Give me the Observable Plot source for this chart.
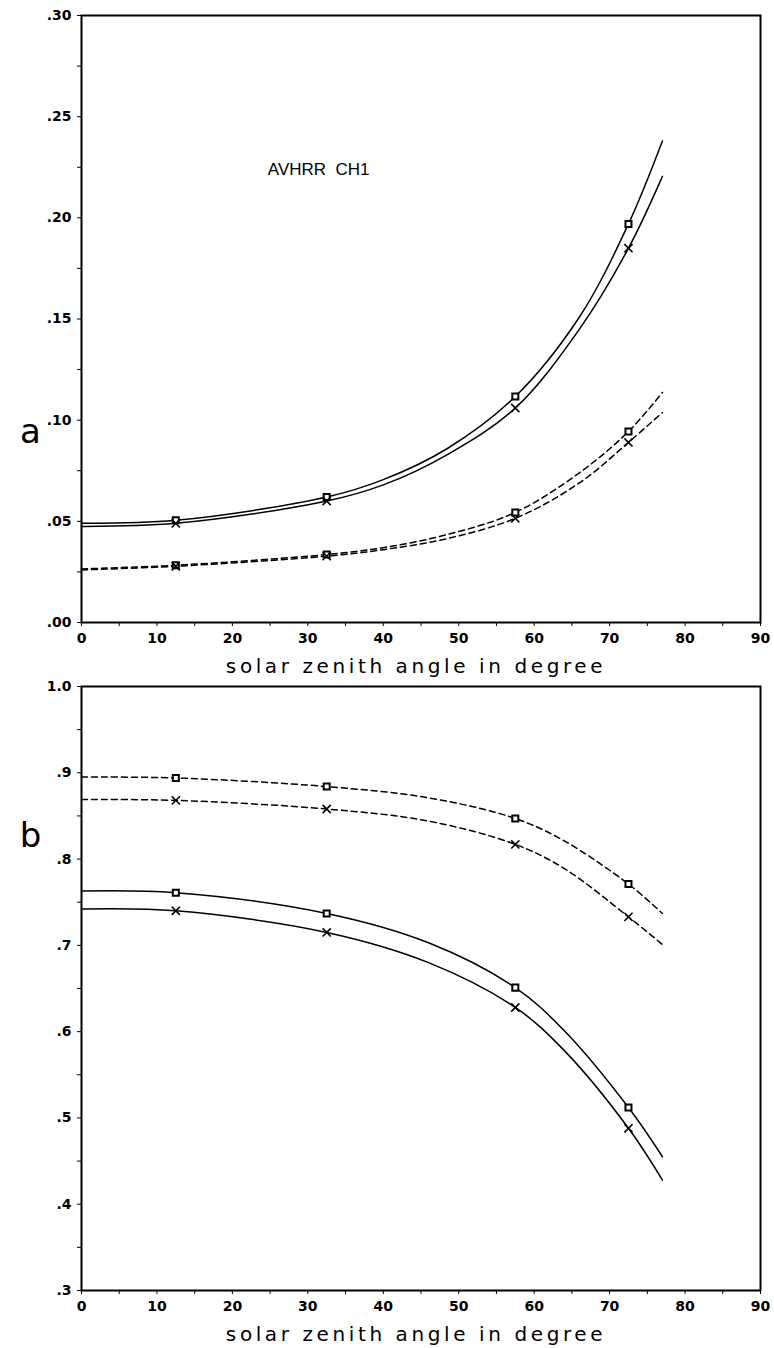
<!DOCTYPE html>
<html>
<head>
<meta charset="utf-8">
<script src="https://cdn.jsdelivr.net/npm/d3@7"></script>
<script src="https://cdn.jsdelivr.net/npm/@observablehq/plot@0.6"></script>
<style>
  body { margin: 0; background: #fff; }
  #chart { position: relative; width: 774px; height: 1348px; }
  #chart svg { display: block; position: absolute; left: 0; }
</style>
</head>
<body>
<div id="chart"></div>
<script>
// ---- Data ----
const markerAngles = [12.5, 32.5, 57.5, 72.5];

// Panel a: AVHRR CH1
const topAngles       = [0, 12.5, 32.5, 40, 48.5, 57.5, 66, 72.5, 77];
const topSolidSquare  = [0.049, 0.0505, 0.062, 0.0706, 0.086, 0.1117, 0.151, 0.197, 0.238];
const topSolidCross   = [0.0475, 0.049, 0.060, 0.068, 0.083, 0.106, 0.145, 0.185, 0.2205];
const topDashSquare   = [0.0265, 0.0283, 0.0336, 0.037, 0.0435, 0.0544, 0.074, 0.0944, 0.1137];
const topDashCross    = [0.026, 0.0278, 0.0328, 0.036, 0.0415, 0.0515, 0.069, 0.089, 0.1038];

// Panel b
const botAngles       = [0, 12.5, 32.5, 46, 57.5, 64, 72.5, 77];
const botDashSquare   = [0.895, 0.894, 0.884, 0.871, 0.847, 0.821, 0.771, 0.737];
const botDashCross    = [0.869, 0.868, 0.858, 0.844, 0.817, 0.789, 0.733, 0.701];
const botSolidSquare  = [0.763, 0.761, 0.737, 0.703, 0.651, 0.601, 0.512, 0.455];
const botSolidCross   = [0.742, 0.740, 0.715, 0.680, 0.628, 0.578, 0.488, 0.428];

// Axis ticks
const xMajor = [0, 10, 20, 30, 40, 50, 60, 70, 80, 90];
const xMinor = [5, 15, 25, 35, 45, 55, 65, 75, 85];
const topYMajor = [0, 0.05, 0.10, 0.15, 0.20, 0.25, 0.30];
const topYMinor = [0.025, 0.075, 0.125, 0.175, 0.225, 0.275];
const botYMajor = [0.3, 0.4, 0.5, 0.6, 0.7, 0.8, 0.9, 1.0];
const botYMinor = [0.35, 0.45, 0.55, 0.65, 0.75, 0.85, 0.95];

const xLabel = "solar zenith angle in degree";
const channelLabel = "AVHRR  CH1";

// ---- helpers ----
const rows = (angles, values) => angles.map((a, i) => ({angle: a, value: values[i]}));
const marks = (angles, values) => rows(angles, values).filter(d => markerAngles.includes(d.angle));
const fmtTop = d => d3.format(".2f")(d).replace(/^0/, "");
const fmtBot = d => d === 1 ? "1.0" : d3.format(".1f")(d).replace(/^0/, "");

const tickFont = {fontSize: 14, fontWeight: "bold"};

function panel({height, marginTop, marginBottom, yDomain, yMajor, yMinor, yFmt,
                angles, solid, dashed, letter, letterY, extra = []}) {
  const lineOpts = {x: "angle", y: "value", stroke: "black", strokeWidth: 1.5, curve: "catmull-rom"};
  const lm = [];
  for (const s of solid) lm.push(Plot.line(rows(angles, s), lineOpts));
  for (const s of dashed) lm.push(Plot.line(rows(angles, s), {...lineOpts, strokeDasharray: "6,4"}));
  const sq = [solid[0], dashed[0]];
  const cr = [solid[1], dashed[1]];
  const dots = [];
  for (const s of sq) dots.push(Plot.dot(marks(angles, s), {x: "angle", y: "value", symbol: "square", r: 3.4, fill: "white", stroke: "black", strokeWidth: 2}));
  for (const s of cr) dots.push(Plot.dot(marks(angles, s), {x: "angle", y: "value", symbol: "times", r: 3.8, stroke: "black", strokeWidth: 1.6}));
  return Plot.plot({
    width: 774,
    height,
    marginLeft: 81,
    marginRight: 14,
    marginTop,
    marginBottom,
    style: {fontFamily: "DejaVu Sans, sans-serif", color: "black", background: "transparent"},
    x: {domain: [0, 90]},
    y: {domain: yDomain},
    marks: [
      Plot.axisX({ticks: xMajor, tickSize: 4, tickPadding: 7, ...tickFont, label: null}),
      Plot.axisX({ticks: xMinor, tickSize: 4, tickFormat: () => "", label: null}),
      Plot.axisY({ticks: yMajor, tickSize: 4, tickPadding: 6, tickFormat: yFmt, ...tickFont, label: null}),
      Plot.axisY({ticks: yMinor, tickSize: 4, tickFormat: () => "", label: null}),
      Plot.frame({stroke: "black", strokeWidth: 2}),
      ...lm,
      ...dots,
      Plot.text([xLabel], {frameAnchor: "bottom", dy: 50, dx: -5, lineAnchor: "bottom", text: d => d, fontSize: 20, fill: "black"}),
      Plot.text([letter], {frameAnchor: "left", y: () => letterY, dx: -51, text: d => d, fontSize: 34, fill: "black", textAnchor: "middle"}),
      ...extra
    ]
  });
}

// top panel: frame from y=15 to y=622 ; svg spans 0..700
const topPlot = panel({
  height: 700, marginTop: 15, marginBottom: 78,
  yDomain: [0, 0.30], yMajor: topYMajor, yMinor: topYMinor, yFmt: fmtTop,
  angles: topAngles,
  solid: [topSolidSquare, topSolidCross],
  dashed: [topDashSquare, topDashCross],
  letter: "a", letterY: 0.094,
  extra: [Plot.text([channelLabel], {x: () => 24.7, y: () => 0.221, text: d => d, textAnchor: "start", lineAnchor: "bottom", fontSize: 17, fontFamily: "Liberation Sans, Arial, sans-serif", fill: "black"})]
});

// bottom panel: svg placed at y=650, frame from y=686 to y=1290
const botPlot = panel({
  height: 698, marginTop: 36, marginBottom: 58,
  yDomain: [0.3, 1.0], yMajor: botYMajor, yMinor: botYMinor, yFmt: fmtBot,
  angles: botAngles,
  solid: [botSolidSquare, botSolidCross],
  dashed: [botDashSquare, botDashCross],
  letter: "b", letterY: 0.827
});

const el = document.getElementById("chart");
topPlot.style.top = "0px";
botPlot.style.top = "650px";
el.appendChild(topPlot);
el.appendChild(botPlot);

// typographic touches on the label texts
d3.select(el).selectAll("text")
  .filter(function() { return this.textContent === xLabel; })
  .attr("letter-spacing", "3.6px");
d3.select(el).selectAll("text")
  .filter(function() { return this.textContent === channelLabel; })
  .style("white-space", "pre");
</script>
</body>
</html>
